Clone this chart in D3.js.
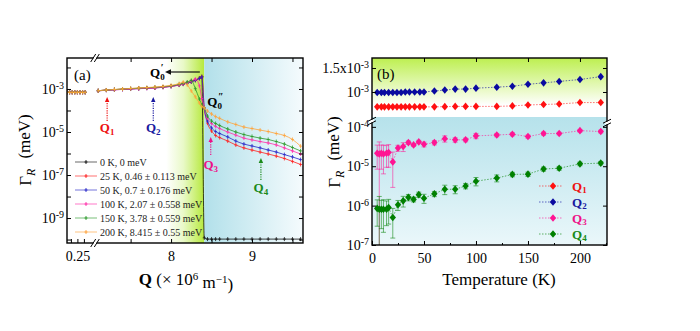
<!DOCTYPE html>
<html>
<head>
<meta charset="utf-8">
<script src="https://cdn.jsdelivr.net/npm/d3@7/dist/d3.min.js"></script>
<style>
body { margin: 0; background: #fff; }
svg text { font-family: "Liberation Serif", "Times New Roman", serif; }
</style>
</head>
<body>
<div id="vis"></div>
<script>
// ---------- panel (a): Gamma_R vs Q, one curve per temperature ----------
var qLeft = [0.17, 0.19, 0.21, 0.23, 0.25, 0.27, 0.29, 0.31];
var gammaLeft = [7.0e-4, 7.0e-4, 7.0e-4, 7.0e-4, 7.0e-4, 7.0e-4, 7.0e-4, 7.0e-4];
var qRight = [7.1, 7.2, 7.3, 7.4, 7.5, 7.6, 7.7, 7.8, 7.9, 8.0, 8.1, 8.15, 8.2, 8.25, 8.3, 8.35, 8.38,
              8.41, 8.45, 8.5, 8.55, 8.6, 8.7, 8.8, 8.9, 9.0, 9.1, 9.2, 9.3, 9.4, 9.5, 9.6];
var gamma0K = [8.3e-4, 8.9e-4, 9.3e-4, 9.8e-4, 1.02e-3, 1.07e-3, 1.11e-3, 1.15e-3, 1.23e-3, 1.35e-3, 1.55e-3, 1.70e-3, 1.91e-3, 2.19e-3, 2.57e-3, 3.16e-3, 3.72e-3,
               1.2e-10, 1.05e-10, 1.05e-10, 1.05e-10, 1.05e-10, 1.05e-10, 1.05e-10, 1.05e-10, 1.05e-10, 1.05e-10, 1.05e-10, 1.05e-10, 1.05e-10, 1.05e-10, 1.05e-10];
var gamma25K = [8.3e-4, 8.9e-4, 9.3e-4, 9.8e-4, 1.02e-3, 1.07e-3, 1.11e-3, 1.15e-3, 1.23e-3, 1.35e-3, 1.55e-3, 1.70e-3, 1.91e-3, 2.19e-3, 2.57e-3, 3.16e-3, 3.72e-3,
                1.32e-4, 2.6e-5, 1.12e-5, 6.9e-6, 5.5e-6, 3.8e-6, 2.5e-6, 1.82e-6, 1.45e-6, 1.17e-6, 9.5e-7, 7.6e-7, 5.9e-7, 4.3e-7, 3.1e-7];
var gamma50K = [8.2e-4, 8.8e-4, 9.2e-4, 9.6e-4, 1.0e-3, 1.04e-3, 1.08e-3, 1.12e-3, 1.2e-3, 1.32e-3, 1.52e-3, 1.67e-3, 1.88e-3, 2.15e-3, 2.52e-3, 3.1e-3, 3.65e-3,
                1.32e-4, 3.24e-5, 1.55e-5, 1.05e-5, 8.5e-6, 5.9e-6, 3.8e-6, 2.75e-6, 2.24e-6, 1.82e-6, 1.45e-6, 1.17e-6, 8.9e-7, 6.9e-7, 5.2e-7];
var gamma100K = [8.2e-4, 8.7e-4, 9.1e-4, 9.5e-4, 9.9e-4, 1.03e-3, 1.07e-3, 1.11e-3, 1.19e-3, 1.31e-3, 1.52e-3, 1.7e-3, 1.95e-3, 2.3e-3, 2.9e-3, 1.4e-3, 3.6e-4,
                 1.32e-4, 4.5e-5, 2.5e-5, 1.82e-5, 1.45e-5, 1.0e-5, 7.2e-6, 5.2e-6, 4.3e-6, 3.6e-6, 3.1e-6, 2.5e-6, 1.82e-6, 1.32e-6, 9.5e-7];
var gamma150K = [8.3e-4, 8.9e-4, 9.4e-4, 9.9e-4, 1.04e-3, 1.09e-3, 1.14e-3, 1.19e-3, 1.27e-3, 1.4e-3, 1.65e-3, 1.85e-3, 2.1e-3, 2.5e-3, 1.03e-3, 3.4e-4, 1.8e-4,
                 1.32e-4, 5.5e-5, 3.24e-5, 2.5e-5, 2.0e-5, 1.38e-5, 1.0e-5, 7.6e-6, 6.2e-6, 5.2e-6, 4.5e-6, 3.6e-6, 2.75e-6, 1.9e-6, 1.32e-6];
var gamma200K = [8.3e-4, 9.0e-4, 9.5e-4, 1.0e-3, 1.06e-3, 1.12e-3, 1.17e-3, 1.23e-3, 1.32e-3, 1.48e-3, 1.78e-3, 2.1e-3, 1.55e-3, 8.1e-4, 4.3e-4, 2.24e-4, 1.55e-4,
                 1.32e-4, 9.5e-5, 6.9e-5, 5.2e-5, 4.3e-5, 2.95e-5, 2.24e-5, 1.7e-5, 1.45e-5, 1.23e-5, 1.05e-5, 8.5e-6, 6.9e-6, 4.5e-6, 2.2e-6];
var labelsA = ["0 K, 0 meV", "25 K, 0.46 \u00b1 0.113 meV", "50 K, 0.7 \u00b1 0.176 meV",
               "100 K, 2.07 \u00b1 0.558 meV", "150 K, 3.78 \u00b1 0.559 meV", "200 K, 8.415 \u00b1 0.55 meV"];
var qMarks = [7.21, 7.78, 8.49, 9.11];
var q0p = 8.38, q0pp = 8.41;

// ---------- panel (b): Gamma_R vs temperature at Q1..Q4 ----------
var tempQ12 = [5, 9, 12, 16, 20, 24, 28, 32, 36, 41, 46, 50, 60, 70, 80, 90, 100, 120, 135, 150, 165, 180, 200, 220];
var gammaQ1 = [0.69e-3, 0.69e-3, 0.69e-3, 0.69e-3, 0.69e-3, 0.69e-3, 0.69e-3, 0.69e-3, 0.69e-3, 0.69e-3, 0.69e-3, 0.69e-3,
               0.69e-3, 0.695e-3, 0.70e-3, 0.70e-3, 0.70e-3, 0.70e-3, 0.71e-3, 0.73e-3, 0.74e-3, 0.75e-3, 0.78e-3, 0.78e-3];
var gammaQ2 = [0.99e-3, 0.99e-3, 0.99e-3, 0.99e-3, 0.99e-3, 0.99e-3, 0.99e-3, 1.0e-3, 1.0e-3, 1.0e-3, 1.0e-3, 1.0e-3,
               1.02e-3, 1.04e-3, 1.06e-3, 1.06e-3, 1.08e-3, 1.10e-3, 1.12e-3, 1.16e-3, 1.19e-3, 1.22e-3, 1.26e-3, 1.32e-3];
var tempQ34 = [5, 7, 9, 11, 14, 16, 20, 25, 30, 35, 40, 45, 50, 60, 70, 80, 90, 100, 120, 135, 150, 165, 180, 200, 220];
var gammaQ3 = [2.14e-5, 2.04e-5, 2.14e-5, 2.04e-5, 2.14e-5, 2.24e-5, 1.29e-5, 2.9e-5, 3.16e-5, 3.98e-5, 3.48e-5, 4.15e-5, 3.6e-5,
               3.98e-5, 5.0e-5, 4.67e-5, 4.67e-5, 5.9e-5, 6.2e-5, 6.5e-5, 5.67e-5, 6.76e-5, 6.76e-5, 8.0e-5, 7.6e-5];
var errQ3 = [1.3e-5, 2.1e-5, 1.3e-5, 1.4e-5, 1.2e-5, 1.3e-5, 1.0e-5, 0.5e-5, 0.8e-5, 0.4e-5, 0.3e-5, 0.4e-5, 0.5e-5,
             0.5e-5, 0.9e-5, 0.6e-5, 0.5e-5, 0.9e-5, 0.6e-5, 0.6e-5, 0.5e-5, 0.6e-5, 0.5e-5, 0.6e-5, 0.6e-5];
var gammaQ4 = [8.5e-7, 8.1e-7, 8.1e-7, 8.1e-7, 8.1e-7, 8.9e-7, 5.0e-7, 1.05e-6, 1.32e-6, 1.62e-6, 1.44e-6, 1.9e-6, 1.54e-6,
               1.99e-6, 2.6e-6, 2.6e-6, 3.16e-6, 4.17e-6, 5.0e-6, 6.2e-6, 6.3e-6, 8.5e-6, 8.9e-6, 1.15e-5, 1.2e-5];
var errQ4 = [5.5e-7, 9e-7, 5.5e-7, 6e-7, 5e-7, 5.5e-7, 3.5e-7, 3e-7, 4e-7, 3e-7, 2e-7, 3e-7, 4e-7,
             3e-7, 7e-7, 6e-7, 5e-7, 1.0e-6, 1.0e-6, 0.8e-6, 0.8e-6, 1.0e-6, 1.0e-6, 1.2e-6, 1.2e-6];
var namesB = ["1", "2", "3", "4"];

// colours
var colA = ["#111111", "#ff2020", "#2626c8", "#ff2ca8", "#2a9a2a", "#ffa33a"];
var colQ = ["#ff1010", "#0a0aa0", "#ff1493", "#008000"];
var colQtext = ["#ee1111", "#1a1aa0", "#ee1188", "#1a8a1a"];

var w = 700, h = 331;
var chart = d3.select("#vis").append("svg")
              .attr("width", w)
              .attr("height", h)
              .style("background-color", "#fff");
var defs = chart.append("defs");

function grad(id, stops, vertical) {
  var g = defs.append("linearGradient").attr("id", id)
              .attr("x1", 0).attr("y1", 0)
              .attr("x2", vertical ? 0 : 1).attr("y2", vertical ? 1 : 0);
  stops.forEach(s => g.append("stop").attr("offset", s[0]).attr("stop-color", s[1]));
}
grad("gGreenA", [[0, "#ffffff"], [0.45, "#e9f9c8"], [1, "#b6e93c"]], false);
grad("gCyanA", [[0, "#b2e0ea"], [1, "#f5fbfd"]], false);
grad("gGreenB", [[0, "#bdef50"], [0.8, "#ffffff"], [1, "#ffffff"]], true);
grad("gCyanB", [[0, "#b6e2eb"], [1, "#eaf7fa"]], true);

function breakMark(x, y, vertical) {
  var g = chart.append("g");
  if (!vertical) {
    g.append("rect").attr("x", x - 1.5).attr("y", y - 2).attr("width", 3).attr("height", 4).attr("fill", "#fff");
    [-1.8, 1.8].forEach(d => g.append("line")
      .attr("x1", x + d - 2.5).attr("y1", y + 4).attr("x2", x + d + 2.5).attr("y2", y - 4)
      .attr("stroke", "#000").attr("stroke-width", 1));
  } else {
    g.append("rect").attr("x", x - 2).attr("y", y - 1.5).attr("width", 4).attr("height", 3).attr("fill", "#fff");
    [-1.8, 1.8].forEach(d => g.append("line")
      .attr("x1", x - 4).attr("y1", y + d + 2).attr("x2", x + 4).attr("y2", y + d - 2)
      .attr("stroke", "#000").attr("stroke-width", 1));
  }
}
// turn tick text into "10" + superscript exponent
function sciTicks(texts, size) {
  texts.each(function(d) {
    var t = d3.select(this), e = Math.round(Math.log10(d));
    var m = d / Math.pow(10, e);
    var pre = Math.abs(m - 1) < 1e-6 ? "10" : m.toFixed(1) + "x10";
    t.text(null);
    t.append("tspan").text(pre);
    t.append("tspan").attr("dy", "-0.5em").attr("font-size", size).text(e);
  });
}

// ================= panel (a) =================
var A = {l: 67, r: 303, t: 58, b: 243, brk: 95};
const xL = d3.scaleLinear().domain([0.17, 0.37]).range([A.l, 93]);
const xR = d3.scaleLinear().domain([7.06, 9.63]).range([A.brk, A.r]);
const yA = d3.scaleLog().domain([Math.pow(10, -10.16), Math.pow(10, -1.56)]).range([A.b, A.t]);

defs.append("clipPath").attr("id", "clipA").append("rect")
    .attr("x", A.l).attr("y", A.t).attr("width", A.r - A.l).attr("height", A.b - A.t);

chart.append("rect").attr("x", xR(7.94)).attr("y", A.t)
     .attr("width", xR(q0pp) - xR(7.94)).attr("height", A.b - A.t).attr("fill", "url(#gGreenA)");
chart.append("rect").attr("x", xR(q0pp)).attr("y", A.t)
     .attr("width", A.r - xR(q0pp)).attr("height", A.b - A.t).attr("fill", "url(#gCyanA)");

var seriesA = [gamma0K, gamma25K, gamma50K, gamma100K, gamma150K, gamma200K];
const lineA = d3.line().curve(d3.curveMonotoneX);
var plotA = chart.append("g").attr("clip-path", "url(#clipA)");
seriesA.forEach(function(vals, i) {
  var left = qLeft.map((q, j) => [xL(q), yA(gammaLeft[j])]);
  var right = qRight.map((q, j) => [xR(q), yA(vals[j])]);
  [left, right].forEach(function(pts) {
    plotA.append("path").attr("d", lineA(pts))
         .attr("fill", "none").attr("stroke", colA[i]).attr("stroke-width", 0.8);
    plotA.selectAll(null).data(pts).enter().append("path")
         .attr("transform", p => `translate(${p[0]},${p[1]})`)
         .attr("d", "M-1.5,0H1.5M0,-2V2")
         .attr("stroke", colA[i]).attr("stroke-width", 0.8);
  });
});

// axes (a), ticks inward
var decA = d3.range(-10, -1).map(e => Math.pow(10, e));
var oddDec = d => Math.round(Math.log10(d)) % 2 !== 0;
var yAxA = chart.append("g").attr("transform", `translate(${A.l},0)`)
    .call(d3.axisLeft(yA).tickValues(decA).tickSizeInner(-4).tickSizeOuter(0).tickPadding(3))
    .attr("font-size", 14).attr("font-family", null);
yAxA.selectAll(".tick text").filter(d => !oddDec(d)).remove();
sciTicks(yAxA.selectAll(".tick text"), 10);
chart.append("g").attr("transform", `translate(${A.r},0)`)
     .call(d3.axisRight(yA).tickValues(decA).tickSizeInner(-4).tickSizeOuter(0).tickFormat(""));
chart.append("g").attr("transform", `translate(0,${A.b})`)
     .call(d3.axisBottom(xR).tickValues([7.5, 8, 8.5, 9, 9.5]).tickSizeInner(-4).tickSizeOuter(0).tickPadding(8)
            .tickFormat(d => Number.isInteger(d) ? d : ""))
     .attr("font-size", 14).attr("font-family", null);
chart.append("g").attr("transform", `translate(0,${A.b})`)
     .call(d3.axisBottom(xL).tickValues([0.2, 0.25, 0.3]).tickSizeInner(-4).tickSizeOuter(0).tickPadding(8)
            .tickFormat(d => d === 0.25 ? "0.25" : ""))
     .attr("font-size", 14).attr("font-family", null);
chart.append("g").attr("transform", `translate(0,${A.t})`)
     .call(d3.axisTop(xR).tickValues([7.5, 8, 8.5, 9, 9.5]).tickSizeInner(-4).tickSizeOuter(0).tickFormat(""));
chart.selectAll(".domain").remove();
chart.append("rect").attr("x", A.l).attr("y", A.t).attr("width", A.r - A.l).attr("height", A.b - A.t)
     .attr("fill", "none").attr("stroke", "#000").attr("stroke-width", 1.4);
breakMark(A.brk, A.t, false);
breakMark(A.brk, A.b, false);

// legend (a)
labelsA.forEach(function(lab, i) {
  var y = 162 + i * 14;
  chart.append("line").attr("x1", 75).attr("x2", 97).attr("y1", y).attr("y2", y)
       .attr("stroke", colA[i]).attr("stroke-width", 1.4).attr("stroke-opacity", 0.45);
  chart.append("path").attr("transform", `translate(86,${y})`).attr("d", "M-1.5,0H1.5M0,-2V2")
       .attr("stroke", colA[i]).attr("stroke-width", 0.9);
  chart.append("text").attr("x", 100).attr("y", y).attr("dy", "0.35em")
       .attr("font-size", 10).attr("fill", "#222").text(lab);
});

// Q markers (a)
var arrowTop = [97, 97, 137, 158], arrowBot = [121, 121, 155, 180], labelBase = [132, 132, 169, 192];
qMarks.forEach(function(q, i) {
  var x = xR(q);
  chart.append("line").attr("x1", x).attr("x2", x).attr("y1", arrowBot[i]).attr("y2", arrowTop[i] + 4)
       .attr("stroke", colQtext[i]).attr("stroke-width", 1.2).attr("stroke-dasharray", "1.2,1.2");
  chart.append("path").attr("d", `M${x},${arrowTop[i]}L${x - 2.2},${arrowTop[i] + 5}L${x + 2.2},${arrowTop[i] + 5}Z`)
       .attr("fill", colQtext[i]);
  var t = chart.append("text").attr("x", x).attr("y", labelBase[i]).attr("text-anchor", "middle")
       .attr("font-size", 13).attr("font-weight", "bold").attr("fill", colQtext[i]).text("Q");
  t.append("tspan").attr("dy", "0.3em").attr("font-size", 9).text(namesB[i]);
});
chart.append("line").attr("x1", xR(q0p) - 2).attr("x2", 170).attr("y1", 72).attr("y2", 72)
     .attr("stroke", "#111").attr("stroke-width", 1.2);
chart.append("path").attr("d", "M165,72L171,69.3L171,74.7Z").attr("fill", "#111");
var tq = chart.append("text").attr("x", 150).attr("y", 77).attr("font-size", 13).attr("font-weight", "bold").text("Q");
tq.append("tspan").attr("dy", "0.3em").attr("font-size", 9).text("0");
tq.append("tspan").attr("dx", -4).attr("dy", "-0.9em").attr("font-size", 10).text("\u2032");
var tq2 = chart.append("text").attr("x", xR(q0pp) + 3).attr("y", 106).attr("font-size", 13).attr("font-weight", "bold").text("Q");
tq2.append("tspan").attr("dy", "0.3em").attr("font-size", 9).text("0");
tq2.append("tspan").attr("dx", -4).attr("dy", "-0.9em").attr("font-size", 10).text("\u2033");

chart.append("text").attr("x", 74).attr("y", 80).attr("font-size", 15).text("(a)");

// axis titles (a)
var xt = chart.append("text").attr("x", 186).attr("y", 285).attr("text-anchor", "middle").attr("font-size", 17);
xt.append("tspan").attr("font-weight", "bold").text("Q");
xt.append("tspan").text(" (\u00d7 10");
xt.append("tspan").attr("dy", "-0.45em").attr("font-size", 11).text("6");
xt.append("tspan").attr("dy", "0.45em").text(" m");
xt.append("tspan").attr("dy", "-0.45em").attr("font-size", 11).text("\u22121");
xt.append("tspan").attr("dy", "0.45em").text(")");

function gammaTitle(x, y) {
  var t = chart.append("text").attr("transform", `translate(${x},${y}) rotate(-90)`)
               .attr("text-anchor", "middle").attr("font-size", 17);
  t.append("tspan").text("\u0393");
  t.append("tspan").attr("dy", "0.3em").attr("font-size", 12).attr("font-style", "italic").text("R");
  t.append("tspan").attr("dy", "-0.3em").attr("dx", 10).text("(meV)");
}
gammaTitle(31, 150);

// ================= panel (b) =================
var B = {l: 372, r: 607, t: 58, b: 245, mid: 117};
const xB = d3.scaleLinear().domain([0, 226]).range([B.l, B.r]);
const yHi = d3.scaleLinear().domain([0.479e-3, 1.708e-3]).range([B.mid, B.t]);
const yLo = d3.scaleLog().domain([1e-7, Math.pow(10, -3.75)]).range([B.b, B.mid]);

chart.append("rect").attr("x", B.l).attr("y", B.t).attr("width", B.r - B.l).attr("height", B.mid - B.t)
     .attr("fill", "url(#gGreenB)");
chart.append("rect").attr("x", B.l).attr("y", B.mid).attr("width", B.r - B.l).attr("height", B.b - B.mid)
     .attr("fill", "url(#gCyanB)");

defs.append("clipPath").attr("id", "clipB").append("rect")
    .attr("x", B.l).attr("y", B.t).attr("width", B.r - B.l).attr("height", B.b - B.t);
var plotB = chart.append("g").attr("clip-path", "url(#clipB)");

var diamond = "M0,-3.8L3.2,0L0,3.8L-3.2,0Z";
var seriesB = [
  {t: tempQ12, g: gammaQ1, e: null, y: yHi},
  {t: tempQ12, g: gammaQ2, e: null, y: yHi},
  {t: tempQ34, g: gammaQ3, e: errQ3, y: yLo},
  {t: tempQ34, g: gammaQ4, e: errQ4, y: yLo}
];
seriesB.forEach(function(s, i) {
  var pts = s.t.map((t, j) => [xB(t), s.y(s.g[j])]);
  plotB.append("path").attr("d", d3.line()(pts)).attr("fill", "none")
       .attr("stroke", colQ[i]).attr("stroke-width", 1).attr("stroke-opacity", 0.6)
       .attr("stroke-dasharray", "1.5,1.5");
  if (s.e) {
    s.t.forEach(function(t, j) {
      var lo = s.g[j] - s.e[j], hi = s.g[j] + s.e[j];
      var y1 = lo > 1e-7 ? s.y(lo) : B.b, y2 = s.y(hi), x = xB(t);
      var eb = plotB.append("g").attr("stroke", colQ[i]).attr("stroke-opacity", 0.55).attr("stroke-width", 1);
      eb.append("line").attr("x1", x).attr("x2", x).attr("y1", y1).attr("y2", y2);
      eb.append("line").attr("x1", x - 2.5).attr("x2", x + 2.5).attr("y1", y2).attr("y2", y2);
      if (lo > 1e-7) eb.append("line").attr("x1", x - 2.5).attr("x2", x + 2.5).attr("y1", y1).attr("y2", y1);
    });
  }
  plotB.selectAll(null).data(pts).enter().append("path")
       .attr("transform", p => `translate(${p[0]},${p[1]})`)
       .attr("d", diamond).attr("fill", colQ[i]);
});

// axes (b)
var yHiAx = chart.append("g").attr("transform", `translate(${B.l},0)`)
    .call(d3.axisLeft(yHi).tickValues([1e-3, 1.5e-3]).tickSizeInner(-4).tickSizeOuter(0).tickPadding(3))
    .attr("font-size", 14).attr("font-family", null);
sciTicks(yHiAx.selectAll(".tick text"), 10);
var yLoAx = chart.append("g").attr("transform", `translate(${B.l},0)`)
    .call(d3.axisLeft(yLo).tickValues([1e-4, 1e-5, 1e-6, 1e-7]).tickSizeInner(-4).tickSizeOuter(0).tickPadding(3))
    .attr("font-size", 14).attr("font-family", null);
sciTicks(yLoAx.selectAll(".tick text"), 10);
chart.append("g").attr("transform", `translate(${B.r},0)`)
     .call(d3.axisRight(yHi).tickValues([1e-3, 1.5e-3]).tickSizeInner(-4).tickSizeOuter(0).tickFormat(""));
chart.append("g").attr("transform", `translate(${B.r},0)`)
     .call(d3.axisRight(yLo).tickValues([1e-4, 1e-5, 1e-6, 1e-7]).tickSizeInner(-4).tickSizeOuter(0).tickFormat(""));
chart.append("g").attr("transform", `translate(0,${B.b})`)
     .call(d3.axisBottom(xB).tickValues([0, 50, 100, 150, 200]).tickSizeInner(-4).tickSizeOuter(0).tickPadding(8))
     .attr("font-size", 14).attr("font-family", null);
chart.append("g").attr("transform", `translate(0,${B.b})`)
     .call(d3.axisBottom(xB).tickValues([25, 75, 125, 175, 225]).tickSizeInner(-2).tickSizeOuter(0).tickFormat(""));
chart.append("g").attr("transform", `translate(0,${B.t})`)
     .call(d3.axisTop(xB).tickValues([50, 100, 150, 200]).tickSizeInner(-4).tickSizeOuter(0).tickFormat(""));
chart.selectAll(".domain").remove();
chart.append("rect").attr("x", B.l).attr("y", B.t).attr("width", B.r - B.l).attr("height", B.b - B.t)
     .attr("fill", "none").attr("stroke", "#000").attr("stroke-width", 1.4);
breakMark(B.l, 121, true);
breakMark(B.r, 123, true);

chart.append("text").attr("x", 377).attr("y", 79).attr("font-size", 15).text("(b)");

// legend (b)
namesB.forEach(function(n, i) {
  var y = 186 + i * 16;
  chart.append("line").attr("x1", 539).attr("x2", 563).attr("y1", y).attr("y2", y)
       .attr("stroke", colQ[i]).attr("stroke-width", 1).attr("stroke-opacity", 0.6).attr("stroke-dasharray", "1.5,1.5");
  chart.append("path").attr("transform", `translate(553,${y})`).attr("d", diamond).attr("fill", colQ[i]);
  var t = chart.append("text").attr("x", 572).attr("y", y).attr("dy", "0.35em")
       .attr("font-size", 13).attr("font-weight", "bold").attr("fill", colQtext[i]).text("Q");
  t.append("tspan").attr("dy", "0.3em").attr("font-size", 9).text(n);
});

chart.append("text").attr("x", 499).attr("y", 285).attr("text-anchor", "middle").attr("font-size", 17)
     .text("Temperature (K)");
gammaTitle(340, 152);
</script>
</body>
</html>
